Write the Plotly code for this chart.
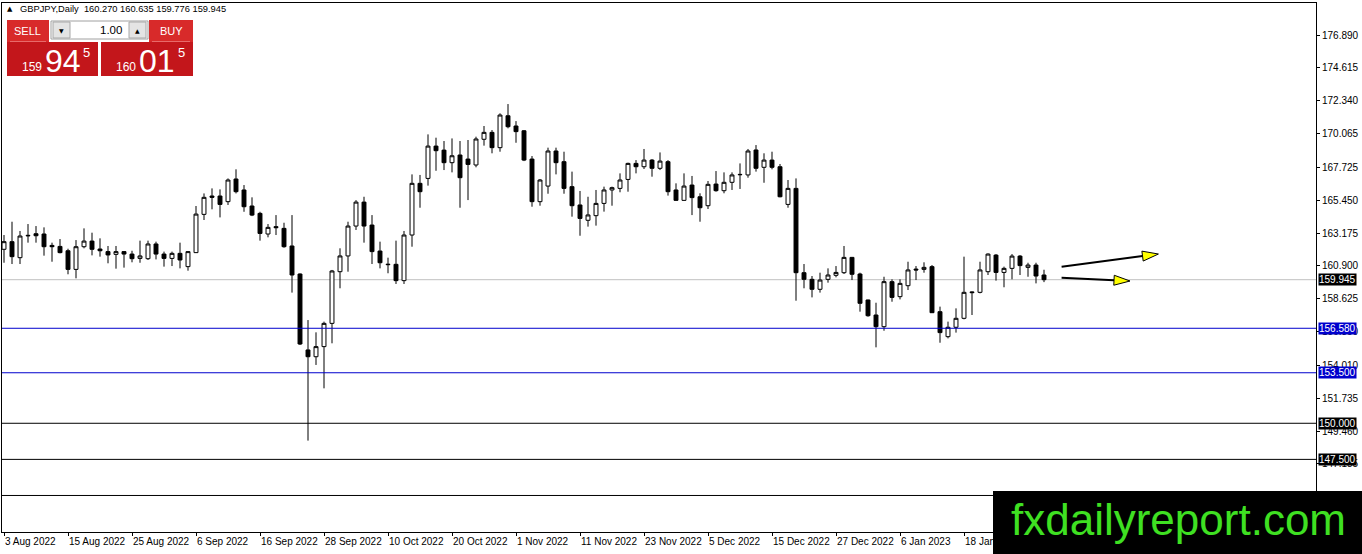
import math
import pandas as pd
import plotly.graph_objects as go

# GBPJPY daily candles, 3 Aug 2022 -> 1 Feb 2023
dates = pd.bdate_range("2022-08-03", periods=131)

opens = [162.05, 162.58, 161.47, 163.02, 163.13, 163.11, 162.32, 162.25, 161.95, 160.66,
         162.23, 162.62, 162.07, 161.89, 161.70, 161.89, 161.72, 161.42, 161.40, 162.42,
         161.72, 161.42, 161.77, 160.85, 161.82, 164.47, 165.74, 165.74, 165.35, 166.92,
         166.16, 165.05, 164.54, 163.11, 163.62, 163.50, 162.28, 160.34, 155.08, 154.61,
         155.31, 156.92, 160.50, 161.59, 163.66, 165.32, 163.73, 161.93, 161.02, 161.01,
         159.88, 163.04, 166.62, 166.96, 169.20, 168.92, 168.05, 168.58, 168.30, 167.89,
         169.67, 170.15, 169.09, 171.30, 170.59, 170.26, 168.30, 165.35, 166.43, 168.86,
         168.12, 166.39, 165.12, 164.06, 164.38, 165.23, 166.16, 166.27, 166.89, 168.00,
         167.77, 168.23, 167.66, 168.12, 166.16, 165.44, 166.50, 165.69, 165.07, 166.57,
         166.11, 166.69, 167.24, 167.20, 168.93, 167.73, 168.23, 167.77, 165.16, 166.27,
         160.43, 159.97, 159.28, 159.97, 160.25, 160.43, 161.49, 160.34, 158.54, 157.50,
         156.69, 159.81, 158.77, 159.53, 160.68, 160.66, 160.85, 157.73, 156.00, 156.65,
         157.27, 159.10, 159.07, 160.50, 161.65, 160.45, 160.73, 161.58, 160.80, 160.96,
         160.270]
highs = [163.04, 163.96, 163.32, 163.80, 163.66, 163.57, 162.51, 162.76, 162.09, 162.69,
         163.50, 163.20, 162.81, 162.28, 162.28, 161.92, 161.95, 162.65, 162.65, 162.58,
         161.89, 161.89, 162.51, 161.93, 165.05, 165.92, 166.27, 166.20, 166.96, 167.59,
         166.50, 165.65, 164.65, 163.80, 164.42, 163.89, 164.42, 160.38, 157.15, 156.30,
         157.04, 160.62, 162.12, 163.96, 165.46, 165.69, 164.42, 162.58, 161.47, 162.65,
         163.32, 167.24, 167.20, 170.01, 169.78, 169.55, 169.73, 169.55, 169.62, 169.85,
         170.59, 170.31, 171.47, 172.11, 170.93, 170.31, 168.51, 166.92, 169.09, 169.09,
         168.81, 167.43, 166.09, 165.69, 166.16, 166.39, 166.39, 167.31, 168.05, 168.23,
         169.00, 168.30, 168.76, 168.23, 166.62, 167.31, 167.13, 165.93, 166.78, 167.47,
         167.38, 167.38, 168.00, 169.00, 169.27, 168.70, 168.81, 167.96, 166.85, 166.96,
         161.03, 160.20, 160.43, 160.73, 160.89, 162.28, 161.52, 160.43, 158.56, 158.35,
         160.15, 159.97, 159.97, 161.19, 160.89, 161.15, 160.96, 158.08, 157.04, 157.96,
         161.54, 159.14, 161.19, 161.77, 161.72, 160.85, 161.72, 161.65, 161.12, 161.12,
         160.635]
lows = [161.12, 161.03, 161.03, 162.51, 162.51, 161.61, 161.19, 161.77, 160.32, 160.04,
        162.12, 161.63, 161.54, 161.08, 160.71, 160.78, 161.15, 161.12, 161.31, 161.35,
        160.85, 160.89, 160.73, 160.57, 161.80, 164.08, 164.82, 164.26, 165.12, 165.92,
        164.65, 164.35, 162.65, 162.88, 163.04, 162.16, 159.05, 155.42, 148.80, 154.04,
        152.42, 155.54, 159.35, 160.50, 163.39, 162.51, 161.03, 160.73, 160.39, 159.65,
        159.65, 162.23, 164.93, 166.46, 167.49, 167.54, 167.38, 164.93, 165.46, 167.73,
        169.23, 168.70, 168.81, 170.43, 169.43, 168.16, 165.00, 165.07, 165.90, 167.24,
        165.90, 164.31, 162.99, 163.62, 163.69, 164.66, 165.07, 166.00, 166.04, 167.31,
        167.61, 167.08, 167.54, 165.77, 165.42, 165.42, 164.42, 163.96, 164.84, 166.04,
        165.93, 166.16, 166.23, 167.01, 167.43, 166.66, 167.59, 165.65, 164.93, 158.49,
        159.35, 158.72, 159.05, 159.74, 160.11, 160.34, 159.92, 157.73, 157.38, 155.26,
        156.41, 158.42, 158.58, 159.23, 159.92, 160.43, 157.64, 155.58, 155.88, 156.28,
        157.20, 157.50, 159.00, 160.27, 159.88, 159.42, 159.97, 160.27, 160.15, 159.69,
        159.776]
closes = [162.58, 161.54, 162.97, 162.99, 162.99, 162.23, 162.23, 161.82, 160.66, 162.23,
          162.62, 162.05, 161.95, 161.66, 161.89, 161.72, 161.40, 161.59, 162.42, 161.72,
          161.42, 161.77, 161.31, 161.89, 164.49, 165.65, 165.65, 165.16, 166.85, 166.04,
          165.00, 164.42, 163.15, 163.57, 163.55, 162.23, 160.27, 155.49, 154.61, 155.31,
          156.92, 160.55, 161.59, 163.66, 165.32, 163.66, 161.89, 161.12, 160.99, 159.88,
          163.04, 166.62, 166.04, 169.20, 168.88, 168.05, 168.53, 167.01, 167.93, 169.69,
          170.15, 169.09, 171.35, 170.54, 170.20, 168.23, 165.35, 166.85, 168.86, 168.05,
          166.27, 165.07, 164.19, 164.43, 165.23, 166.16, 166.32, 166.85, 168.00, 167.77,
          168.23, 167.66, 168.16, 166.04, 165.44, 166.43, 165.63, 164.93, 166.55, 166.11,
          166.69, 167.20, 167.22, 168.86, 167.66, 168.23, 167.73, 165.69, 166.27, 160.43,
          159.97, 159.28, 159.92, 160.27, 160.45, 161.49, 160.32, 158.31, 157.45, 156.69,
          159.81, 158.72, 159.69, 160.62, 160.62, 160.80, 157.66, 156.28, 156.65, 157.27,
          159.07, 159.05, 160.62, 161.72, 160.45, 160.73, 161.58, 160.92, 160.96, 160.20,
          159.945]

# price scale ticks as printed by MT4
y_ticks = [176.890, 174.615, 172.340, 170.065, 167.725, 165.450, 163.175, 160.900,
           158.625, 156.350, 154.010, 151.735, 149.460, 147.185]

# horizontal levels: (price, colour)
levels = [(156.580, "#0000CD"), (153.500, "#0000CD"), (150.000, "black"),
          (147.500, "black"), (145.000, "black")]
bid = 159.945

# forecast arrows: (tail bar, tail price, tip bar, tip price)
arrows = [(132.2, 160.845, 144.3, 161.724),
          (132.2, 160.080, 140.75, 159.855)]

W, H = 1362, 554
ML, MR, MT, MB = 2, 46, 3, 22
XR = [-0.25, 164.0]
YR = [142.47, 179.11]
PW, PH = W - ML - MR, H - MT - MB
px_bar = PW / (XR[1] - XR[0])
px_price = PH / (YR[1] - YR[0])


def px(x):
    return (x - ML) / PW


def py(y):
    return (H - MB - y) / PH


fig = go.Figure(go.Candlestick(
    x=[d.strftime("%Y-%m-%d") for d in dates],
    open=opens, high=highs, low=lows, close=closes,
    increasing=dict(line=dict(color="black", width=1), fillcolor="white"),
    decreasing=dict(line=dict(color="black", width=1), fillcolor="black"),
    hoverinfo="skip",
))

# MT4 labels every 8th bar; the ones past 18 Jan sit under the watermark
tick_idx = list(range(0, 121, 8))
fig.update_xaxes(
    type="category", range=XR, rangeslider_visible=False,
    tickvals=[dates[i].strftime("%Y-%m-%d") for i in tick_idx],
    ticktext=[f"{dates[i].day} {dates[i].strftime('%b %Y')}" for i in tick_idx],
    tickangle=0, ticks="outside", ticklen=3, tickcolor="black",
    ticklabelposition="outside right",
    showline=True, mirror=True, linecolor="black", linewidth=1, showgrid=False,
    tickfont=dict(family="Liberation Sans", size=10, color="black"),
)
fig.update_yaxes(
    side="right", range=YR, tickvals=y_ticks, ticktext=[f"{v:.3f}" for v in y_ticks],
    ticks="outside", ticklen=3, tickcolor="black",
    showline=True, mirror=True, linecolor="black", linewidth=1,
    showgrid=False, zeroline=False,
    tickfont=dict(family="Liberation Sans", size=10, color="black"),
)

shapes = []
annotations = []

# bid line and levels
shapes.append(dict(type="line", xref="paper", x0=0, x1=1, yref="y", y0=bid, y1=bid,
                   line=dict(color="#C0C0C0", width=1), layer="below"))
for val, col in levels:
    shapes.append(dict(type="line", xref="paper", x0=0, x1=1, yref="y", y0=val, y1=val,
                       line=dict(color=col, width=1)))
for val, col in [(bid, "black")] + levels[:4]:
    annotations.append(dict(xref="paper", x=1, xanchor="left", xshift=2, yref="y", y=val,
                            text=f"{val:.3f}", showarrow=False, bgcolor=col, borderpad=0,
                            font=dict(family="Liberation Sans", size=10, color="white")))

# arrows: black shaft + yellow head
for b0, p0, b1, p1 in arrows:
    dx = (b1 - b0) * px_bar
    dy = (p1 - p0) * px_price
    ln = math.hypot(dx, dy)
    ux, uy = dx / ln, dy / ln
    head, half = 16, 5
    bx, by = b1 - ux * head / px_bar, p1 - uy * head / px_price
    shapes.append(dict(type="line", xref="x", yref="y", x0=b0, y0=p0, x1=bx, y1=by,
                       line=dict(color="black", width=2)))
    c1 = (bx - uy * half / px_bar, by + ux * half / px_price)
    c2 = (bx + uy * half / px_bar, by - ux * half / px_price)
    path = f"M {b1},{p1} L {c1[0]},{c1[1]} L {c2[0]},{c2[1]} Z"
    shapes.append(dict(type="path", xref="x", yref="y", path=path,
                       fillcolor="#FFFF00", line=dict(color="black", width=1)))


def rect(x0, y0, x1, y1, fill, line=None):
    shapes.append(dict(type="rect", xref="paper", yref="paper",
                       x0=px(x0), x1=px(x1), y0=py(y1), y1=py(y0),
                       fillcolor=fill, layer="above",
                       line=dict(width=1 if line else 0, color=line or fill)))


def text(x, y, s, size, color="white", anchor="center", family="Liberation Sans"):
    annotations.append(dict(xref="paper", yref="paper", x=px(x), y=py(y), text=s,
                            xanchor=anchor, yanchor="middle", showarrow=False,
                            font=dict(family=family, size=size, color=color)))


# one-click trading panel
text(10, 9, "▲", 7, "black", family="DejaVu Sans")
text(18, 9, "GBPJPY,Daily  160.270 160.635 159.776 159.945", 9.3, "black", "left")
rect(7, 20, 49, 42, "#D82A2A")
rect(149, 20, 193, 42, "#D82A2A")
rect(7, 42, 98, 76, "#C3161B")
rect(101, 42, 193, 76, "#C3161B")
rect(10, 41, 46, 42, "#E86A6A")
rect(152, 41, 190, 42, "#E86A6A")
rect(51, 21, 148, 39, "white", "#A0A0A0")
rect(53, 22, 70, 38, "#E4E4E4", "#A8A8A8")
rect(129, 22, 146, 38, "#E4E4E4", "#A8A8A8")
text(61.5, 30, "▼", 6, "black", family="DejaVu Sans")
text(137.5, 30, "▲", 6, "black", family="DejaVu Sans")
text(124, 30, "1.00", 11.5, "black", "right")
text(27, 31, "SELL", 11)
text(171, 31, "BUY", 11)
text(32, 67, "159", 12)
text(63, 61, "94", 32)
text(86, 52, "5", 13)
text(126, 67, "160", 12)
text(157, 61, "01", 32)
text(181, 52, "5", 13)

# watermark
rect(993, 491, 1362, 554, "black")
text(1178, 519, "fxdailyreport.com", 44, "#3FE022")

fig.update_layout(
    width=W, height=H, margin=dict(l=ML, r=MR, t=MT, b=MB),
    paper_bgcolor="white", plot_bgcolor="white", showlegend=False,
    shapes=shapes, annotations=annotations,
)
fig.write_html("out.html", config={"displayModeBar": False},
               post_script="document.body.style.margin='0px';")
